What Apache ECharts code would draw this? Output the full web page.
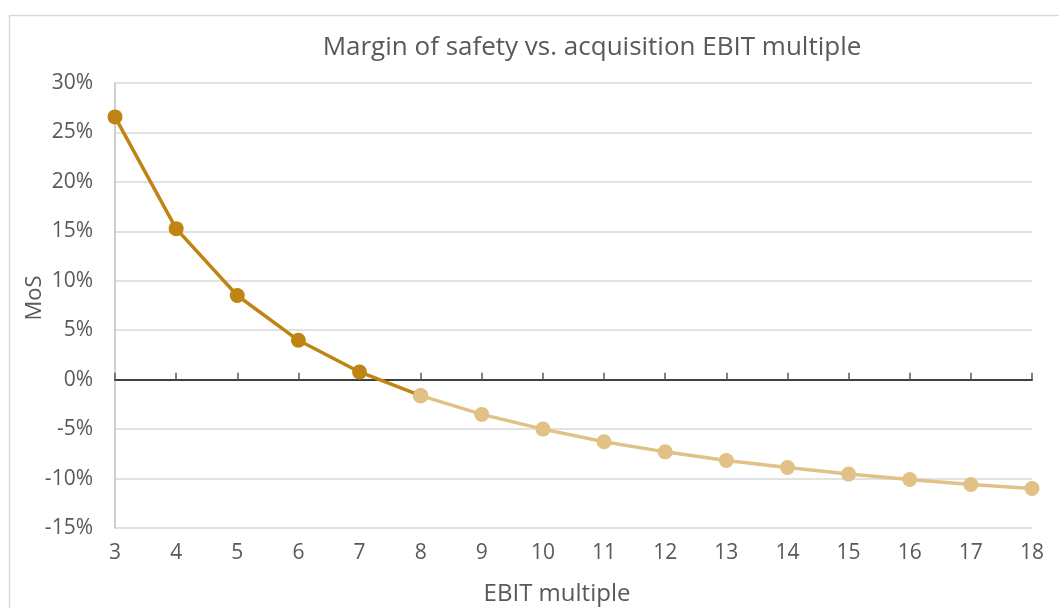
<!DOCTYPE html>
<html>
<head>
<meta charset="utf-8">
<script src="https://cdn.jsdelivr.net/npm/echarts@6/dist/echarts.min.js"></script>
<style>
  html, body { margin: 0; padding: 0; background: #ffffff; }
  #chart { width: 1059px; height: 608px; }
</style>
</head>
<body>
<div id="chart"></div>
<script>
// EBIT multiples on the x axis
const multiples = ['3','4','5','6','7','8','9','10','11','12','13','14','15','16','17','18'];
// Margin of safety (%) while the multiple keeps MoS positive (up to the crossing point)
const mosPositive = [26.57, 15.27, 8.51, 3.98, 0.78, -1.62, null, null, null, null, null, null, null, null, null, null];
// Margin of safety (%) from multiple 8 onward
const mosNegative = [null, null, null, null, null, -1.62, -3.51, -5.0, -6.28, -7.3, -8.17, -8.88, -9.55, -10.1, -10.6, -11.0];
// Y axis range in percent
const yMin = -15, yMax = 30, yStep = 5;

const FONT = '"Open Sans", "Liberation Sans", sans-serif';
const TEXT = '#595959';
const DARK = '#BF8412';
const LIGHT = '#E1C185';

const chart = echarts.init(document.getElementById('chart'), null, { renderer: 'canvas' });

const grid = { left: 115, right: 27, top: 83, bottom: 80 };

chart.setOption({
  animation: false,
  backgroundColor: '#ffffff',
  title: {
    text: 'Margin of safety vs. acquisition EBIT multiple',
    left: 587, top: 30, textAlign: 'center',
    textStyle: { fontFamily: FONT, fontSize: 26, fontWeight: 'normal', color: TEXT }
  },
  graphic: [
    { type: 'rect', shape: { x: 9.5, y: 15.5, width: 1100, height: 700 },
      style: { fill: null, stroke: '#d9d9d9', lineWidth: 1.5 }, silent: true, z: -1 },
    { type: 'text', x: 35, y: 298, rotation: Math.PI / 2,
      style: { text: 'MoS', font: '22px ' + FONT, fill: TEXT, align: 'center', verticalAlign: 'middle' } },
    { type: 'text', x: 557, y: 594,
      style: { text: 'EBIT multiple', font: '24px ' + FONT, fill: TEXT, align: 'center', verticalAlign: 'middle' } }
  ],
  grid: grid,
  xAxis: [
    { // labels along the bottom of the plot
      type: 'category', data: multiples, boundaryGap: false, position: 'bottom',
      axisLine: { show: false, onZero: false }, axisTick: { show: false },
      axisLabel: { color: TEXT, fontFamily: FONT, fontSize: 21, margin: 15 },
      splitLine: { show: false }
    },
    { // zero line with ticks below
      type: 'category', data: multiples, boundaryGap: false,
      axisLine: { show: true, onZero: true, lineStyle: { color: '#404040', width: 2 } },
      axisTick: { show: true, inside: false, length: 7, lineStyle: { color: '#595959', width: 1.5 } },
      axisLabel: { show: false }, splitLine: { show: false }
    },
    { // ticks above the zero line (moved onto the zero line below)
      type: 'category', data: multiples, boundaryGap: false, position: 'top',
      axisLine: { show: false, onZero: false },
      axisTick: { show: true, inside: false, length: 7, lineStyle: { color: '#595959', width: 1.5 } },
      axisLabel: { show: false }, splitLine: { show: false }
    }
  ],
  yAxis: {
    type: 'value', min: yMin, max: yMax, interval: yStep,
    axisLine: { show: true, onZero: false, lineStyle: { color: '#bfbfbf', width: 1.5 } },
    axisTick: { show: false },
    axisLabel: { color: TEXT, fontFamily: FONT, fontSize: 21, margin: 22, formatter: v => v + '%' },
    splitLine: { show: true, lineStyle: { color: '#d9d9d9', width: 1.5 } }
  },
  series: [
    {
      type: 'line', xAxisIndex: 0, data: mosPositive, connectNulls: false,
      symbol: 'circle', symbolSize: 15,
      lineStyle: { color: DARK, width: 3.5 }, itemStyle: { color: DARK },
      z: 3
    },
    {
      type: 'line', xAxisIndex: 0, data: mosNegative, connectNulls: false,
      symbol: 'circle', symbolSize: 15,
      lineStyle: { color: LIGHT, width: 3.5 }, itemStyle: { color: LIGHT },
      z: 4
    }
  ]
});

// Shift the upper tick row from the top edge down to the zero line, so the ticks cross it
const zeroY = chart.convertToPixel({ yAxisIndex: 0 }, 0);
chart.setOption({ xAxis: [{}, {}, { offset: -(zeroY - grid.top) }] });
</script>
</body>
</html>
